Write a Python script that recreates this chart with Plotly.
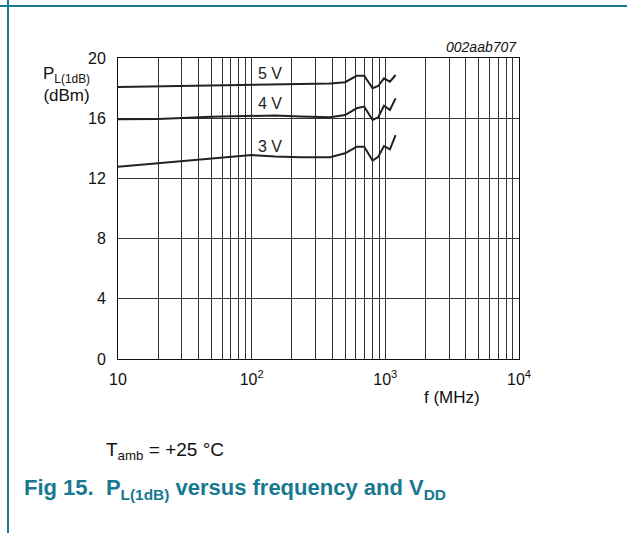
import plotly.graph_objects as go

# Data
freq_mhz = [10, 20, 50, 69, 100, 150, 230, 385, 500, 610, 695, 803, 885, 977, 1082, 1193]
p_5v = [18.08, 18.12, 18.18, 18.22, 18.24, 18.26, 18.28, 18.30, 18.39, 18.82, 18.82, 17.99, 18.14, 18.65, 18.43, 18.87]
p_4v = [15.93, 15.95, 16.10, 16.12, 16.15, 16.18, 16.12, 16.06, 16.21, 16.66, 16.77, 15.88, 16.06, 16.83, 16.55, 17.32]
p_3v = [12.78, 13.00, 13.30, 13.40, 13.55, 13.45, 13.40, 13.40, 13.67, 14.10, 14.10, 13.18, 13.44, 14.15, 13.93, 14.88]
series_names = ["5 V", "4 V", "3 V"]
label_y = [19.0, 17.0, 14.15]

y_ticks = [0, 4, 8, 12, 16, 20]
x_major = [10, 100, 1000, 10000]
x_major_text = ["10", "10<sup>2</sup>", "10<sup>3</sup>", "10<sup>4</sup>"]

FONT = "Liberation Sans, Arial, sans-serif"
TEAL = "#17798f"

# gridline positions (1-9 per decade)
x_grid = []
for d in [10, 100, 1000]:
    for m in range(1, 10):
        x_grid.append(d * m)
x_grid.append(10000)
x_text = [x_major_text[x_major.index(v)] if v in x_major else "" for v in x_grid]

fig = go.Figure()
for name, ys in zip(series_names, [p_5v, p_4v, p_3v]):
    fig.add_trace(go.Scatter(x=freq_mhz, y=ys, mode="lines", name=name,
                             line=dict(color="#222222", width=2), showlegend=False))

for name, ly in zip(series_names, label_y):
    fig.add_annotation(x=2.137, y=ly, xref="x", yref="y", text=name, showarrow=False,
                       font=dict(family=FONT, size=16, color="#222222"))

W, H = 627, 533
L, R, T, B = 118, 519, 58, 359
pw, ph = R - L, B - T

def px(x):
    return (x - L) / pw

def py(y):
    return (B - y) / ph

fig.update_layout(
    width=W, height=H,
    margin=dict(l=L, r=W - R, t=T, b=H - B),
    paper_bgcolor="white", plot_bgcolor="white",
    font=dict(family=FONT, size=16, color="#111111"),
    xaxis=dict(type="log", range=[1, 4], tickvals=x_grid, ticktext=x_text,
               showgrid=True, gridcolor="#333333", gridwidth=1,
               showline=True, linecolor="#111111", linewidth=1, mirror=True,
               ticks="", zeroline=False, tickfont=dict(size=16), ticklabelstandoff=6),
    yaxis=dict(range=[0, 20], tickvals=y_ticks,
               showgrid=True, gridcolor="#333333", gridwidth=1,
               showline=True, linecolor="#111111", linewidth=1, mirror=True,
               ticks="", zeroline=False, tickfont=dict(size=16), ticklabelstandoff=8),
)

anns = [
    dict(x=px(519), y=py(47), text="<i>002aab707</i>", xanchor="right", size=14),
    dict(x=px(66), y=py(84), text="P<sub>L(1dB)</sub><br>(dBm)", xanchor="center", size=17),
    dict(x=px(452), y=py(397), text="f (MHz)", xanchor="center", size=17),
    dict(x=px(104), y=py(451), text="T<sub>amb</sub> = +25 °C", xanchor="left", size=19),
]
for a in anns:
    fig.add_annotation(x=a["x"], y=a["y"], xref="paper", yref="paper", text=a["text"],
                       showarrow=False, xanchor=a["xanchor"], yanchor="middle",
                       font=dict(family=FONT, size=a["size"], color="#111111"))

fig.add_annotation(x=px(22), y=py(489), xref="paper", yref="paper",
                   text="<b>Fig 15.  P<sub>L(1dB)</sub> versus frequency and V<sub>DD</sub></b>",
                   showarrow=False, xanchor="left", yanchor="middle",
                   font=dict(family=FONT, size=22, color=TEAL))

# frame lines of the page
fig.add_shape(type="line", xref="paper", yref="paper", x0=px(0), x1=px(627), y0=py(6), y1=py(6),
              line=dict(color=TEAL, width=2))
fig.add_shape(type="line", xref="paper", yref="paper", x0=px(8), x1=px(8), y0=py(0), y1=py(533),
              line=dict(color=TEAL, width=2))

fig.write_html("out.html")
